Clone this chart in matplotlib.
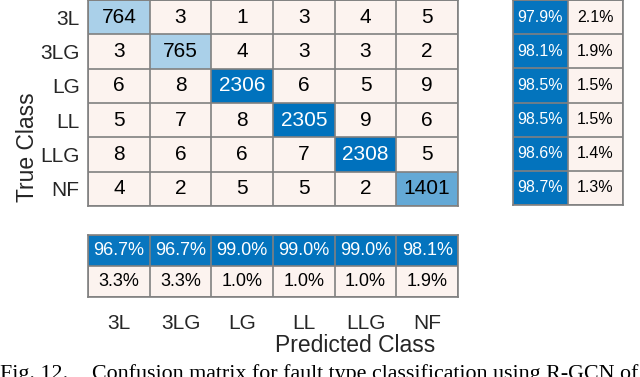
import numpy as np
import matplotlib
matplotlib.use("Agg")
import matplotlib.pyplot as plt
from matplotlib.colors import to_rgb

classes = ["3L", "3LG", "LG", "LL", "LLG", "NF"]
counts = np.array([
    [764, 3, 1, 3, 4, 5],
    [3, 765, 4, 3, 3, 2],
    [6, 8, 2306, 6, 5, 9],
    [5, 7, 8, 2305, 9, 6],
    [8, 6, 6, 7, 2308, 5],
    [4, 2, 5, 5, 2, 1401],
])
row_correct = [97.9, 98.1, 98.5, 98.5, 98.6, 98.7]
row_wrong = [2.1, 1.9, 1.5, 1.5, 1.4, 1.3]
col_correct = [96.7, 96.7, 99.0, 99.0, 99.0, 98.1]
col_wrong = [3.3, 3.3, 1.0, 1.0, 1.0, 1.9]

BLUE = np.array(to_rgb("#0072BD"))
PALE = np.array(to_rgb("#FCF3EF"))
GRID = "#808080"
SANS = "Liberation Sans"


def blue_shade(frac):
    return 1 - frac * (1 - BLUE)


def text_color(rgb):
    lum = 0.299 * rgb[0] + 0.587 * rgb[1] + 0.114 * rgb[2]
    return "white" if lum < 0.45 else "black"


def draw_cells(ax, rgb, labels, size):
    n_rows, n_cols = rgb.shape[:2]
    ax.imshow(rgb, aspect="auto", interpolation="nearest")
    for i in range(n_rows):
        for j in range(n_cols):
            ax.text(j, i, labels[i][j], ha="center", va="center",
                    fontsize=size, family=SANS, color=text_color(rgb[i, j]))
    ax.set_xticks(np.arange(-0.5, n_cols), minor=True)
    ax.set_yticks(np.arange(-0.5, n_rows), minor=True)
    ax.grid(which="minor", color=GRID, lw=1.2)
    ax.tick_params(which="both", length=0)
    ax.set_xticks([])
    ax.set_yticks([])
    for spine in ax.spines.values():
        spine.set_color(GRID)
        spine.set_linewidth(1.2)


fig = plt.figure(figsize=(6.4, 3.77), dpi=100)


def px_axes(x0, y0, x1, y1):
    return fig.add_axes([x0 / 640, 1 - y1 / 377, (x1 - x0) / 640, (y1 - y0) / 377])


# main matrix
ax = px_axes(88, 0, 458, 206)
peak = counts.max()
rgb = np.zeros(counts.shape + (3,))
for i in range(6):
    for j in range(6):
        rgb[i, j] = blue_shade(counts[i, j] / peak) if i == j else PALE
draw_cells(ax, rgb, [[str(v) for v in row] for row in counts], 15)
ax.set_yticks(range(6))
ax.set_yticklabels(classes, fontsize=15, family=SANS, color="#262626")
ax.tick_params(axis="y", pad=6)

# row summary
ax_r = px_axes(513, 0, 623, 205)
rgb_r = np.zeros((6, 2, 3))
labels_r = []
for i in range(6):
    rgb_r[i, 0] = blue_shade(row_correct[i] / 100)
    rgb_r[i, 1] = PALE
    labels_r.append([f"{row_correct[i]:.1f}%", f"{row_wrong[i]:.1f}%"])
draw_cells(ax_r, rgb_r, labels_r, 11.5)

# column summary
ax_b = px_axes(88, 235, 458, 297)
rgb_b = np.zeros((2, 6, 3))
for j in range(6):
    rgb_b[0, j] = blue_shade(col_correct[j] / 100)
    rgb_b[1, j] = PALE
labels_b = [[f"{v:.1f}%" for v in col_correct], [f"{v:.1f}%" for v in col_wrong]]
draw_cells(ax_b, rgb_b, labels_b, 13)
ax_b.set_xticks(range(6))
ax_b.set_xticklabels(classes, fontsize=15, family=SANS, color="#262626")
ax_b.tick_params(axis="x", pad=12)

fig.text(355 / 640, 1 - 345 / 377, "Predicted Class", ha="center", va="center",
         fontsize=16.5, family=SANS, color="#262626")
fig.text(27 / 640, 1 - 147 / 377, "True Class", ha="center", va="center",
         rotation=90, fontsize=16.5, family=SANS, color="#262626")

# caption, cut off by the crop in the source
fig.text(0, -0.004, "Fig. 12.", ha="left", va="baseline",
         fontsize=15.8, family="Liberation Serif")
fig.text(638 / 640, -0.004, "Confusion matrix for fault type classification using R-GCN of",
         ha="right", va="baseline", fontsize=15.8, family="Liberation Serif")

fig.savefig("out.png", dpi=100)
